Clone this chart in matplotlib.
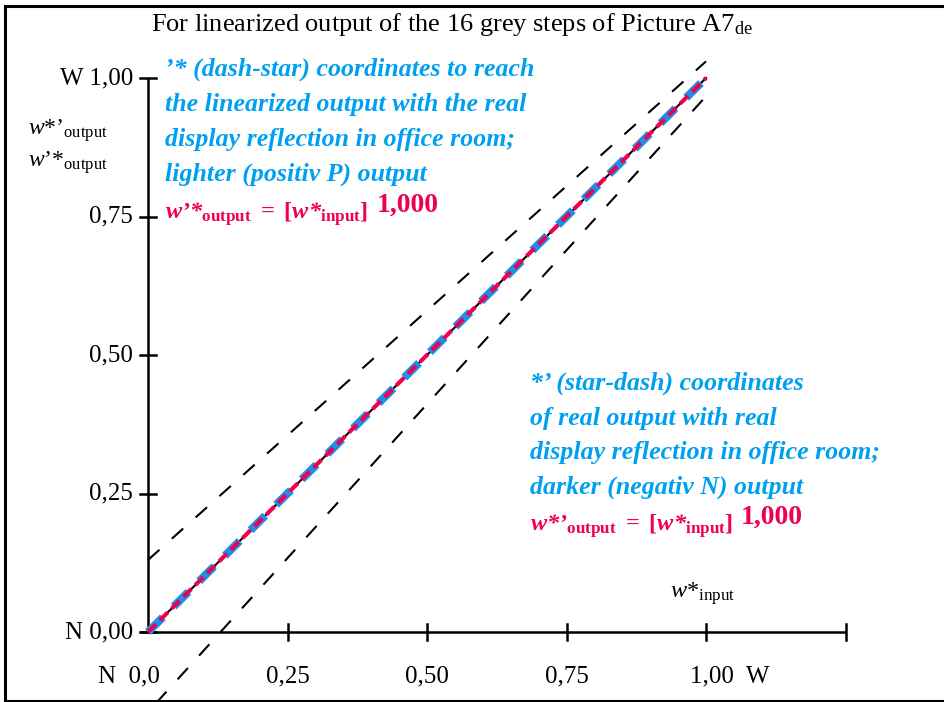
import matplotlib
matplotlib.use('Agg')
import matplotlib.pyplot as plt
from matplotlib.lines import Line2D

plt.rcParams['font.family'] = ['Liberation Serif', 'DejaVu Serif']
plt.rcParams['mathtext.fontset'] = 'custom'
plt.rcParams['mathtext.rm'] = 'Liberation Serif'
plt.rcParams['mathtext.it'] = 'Liberation Serif:italic'
plt.rcParams['mathtext.bf'] = 'Liberation Serif:bold'
plt.rcParams['mathtext.bfit'] = 'Liberation Serif:bold:italic'
plt.rcParams['lines.scale_dashes'] = False

W, H = 944, 702
BLUE = '#00a0f0'
LINEBLUE = '#1e90e6'
RED = '#f00050'

# data
ticks = [0.0, 0.25, 0.5, 0.75, 1.0, 1.25]
x_ticklabels = ['N  0,0', '0,25', '0,50', '0,75', '1,00  W']
y_ticks = [0.0, 0.25, 0.5, 0.75, 1.0]
y_ticklabels = ['N 0,00', '0,25', '0,50', '0,75', 'W 1,00']
diag_x = [0.0, 1.0]
diag_y = [0.0, 1.0]
upper_x = [0.0, 1.0]
upper_y = [0.13, 1.03]
lower_x = [-0.005, 1.0]
lower_y = [-0.15, 0.967]

# pixel mapping used for the layout
X0, XS = 148, 558
Y0, YS = 632, 554

fig = plt.figure(figsize=(W / 100, H / 100), dpi=100)
ax = fig.add_axes([0, 0, 1, 1])
ax.set_xlim(-X0 / XS, (W - X0) / XS)
ax.set_ylim((Y0 - H) / YS, Y0 / YS)
ax.axis('off')


def px(x, y):
    return x / W, 1 - y / H


# frame
fig.add_artist(Line2D([5 / W, 5 / W], [1 - 6 / H, 1 - 701 / H], color='black', lw=2.2))
fig.add_artist(Line2D([5 / W, 1], [1 - 6 / H, 1 - 6 / H], color='black', lw=2.2))
fig.add_artist(Line2D([5 / W, 1], [1 - 701 / H, 1 - 701 / H], color='black', lw=2.2))

# axes
ax.plot([-0.015, 1.25], [0, 0], color='black', lw=1.8, solid_capstyle='butt')
ax.plot([0, 0], [0, 1.0], color='black', lw=1.8, solid_capstyle='butt')
tx = 8 / XS
ty = 8 / YS
for t in ticks[1:]:
    ax.plot([t, t], [-ty, ty], color='black', lw=1.8)
for t in y_ticks:
    ax.plot([-tx, tx], [t, t], color='black', lw=1.8)

for t, lab in zip(ticks[:5], x_ticklabels):
    if t == 0.0:
        ax.text(t + 0.022, -0.081, lab, ha='right', va='center', fontsize=18)
    elif t == 1.0:
        ax.text(t - 0.028, -0.081, lab, ha='left', va='center', fontsize=18)
    else:
        ax.text(t, -0.081, lab, ha='center', va='center', fontsize=18)
for t, lab in zip(y_ticks, y_ticklabels):
    ax.text(-0.027, t, lab, ha='right', va='center', fontsize=18)

# lines
ax.plot(upper_x, upper_y, color='black', lw=1.5, dashes=(11, 12), clip_on=False)
ax.plot(lower_x, lower_y, color='black', lw=1.5, dashes=(11, 12), clip_on=False)
ax.plot(diag_x, diag_y, color='black', lw=1.5)
ax.plot(diag_x, diag_y, color=LINEBLUE, lw=5.8, dashes=(15, 11))
ax.plot(diag_x, diag_y, color=RED, lw=3, dashes=(8, 4))

# titles and labels
fig.text(*px(452, 31), r'For linearized output of the 16 grey steps of Picture A7$_{\mathrm{de}}$',
         ha='center', va='baseline', fontsize=19)
fig.text(*px(28, 135), r'$\mathit{w}$*’$_{\mathrm{output}}$', ha='left', va='baseline', fontsize=17)
fig.text(*px(28, 167), r'$\mathit{w}$’*$_{\mathrm{output}}$', ha='left', va='baseline', fontsize=17)
fig.text(*px(670, 598), r'$\mathit{w}$*$_{\mathrm{input}}$', ha='left', va='baseline', fontsize=17.5)

block1 = ['’* (dash-star) coordinates to reach',
          'the linearized output with the real',
          'display reflection in office room;',
          'lighter (positiv P) output']
block2 = ['*’ (star-dash) coordinates',
          'of real output with real',
          'display reflection in office room;',
          'darker (negativ N) output']
for i, s in enumerate(block1):
    fig.text(*px(165, 76 + 35 * i), s, color=BLUE, fontsize=18.6, fontweight='bold',
             fontstyle='italic', ha='left', va='baseline')
for i, s in enumerate(block2):
    fig.text(*px(530, 390 + 34.5 * i), s, color=BLUE, fontsize=18.6, fontweight='bold',
             fontstyle='italic', ha='left', va='baseline')

f1 = r'$\mathbfit{w}$’*$_{\mathbf{output}}$ $\mathbf{=}$ $\mathbf{[}$$\mathbfit{w}$*$_{\mathbf{input}}$$\mathbf{]}$'
f2 = r'$\mathbfit{w}$*’$_{\mathbf{output}}$ $\mathbf{=}$ $\mathbf{[}$$\mathbfit{w}$*$_{\mathbf{input}}$$\mathbf{]}$'
fig.text(*px(165, 219), f1, color=RED, fontsize=17.6, fontweight='bold', fontstyle='italic',
         ha='left', va='baseline')
fig.text(*px(377, 212), '1,000', color=RED, fontsize=20, fontweight='bold', ha='left', va='baseline')
fig.text(*px(530, 531), f2, color=RED, fontsize=17.6, fontweight='bold', fontstyle='italic',
         ha='left', va='baseline')
fig.text(*px(741, 524), '1,000', color=RED, fontsize=20, fontweight='bold', ha='left', va='baseline')

fig.savefig('out.png', dpi=100)
